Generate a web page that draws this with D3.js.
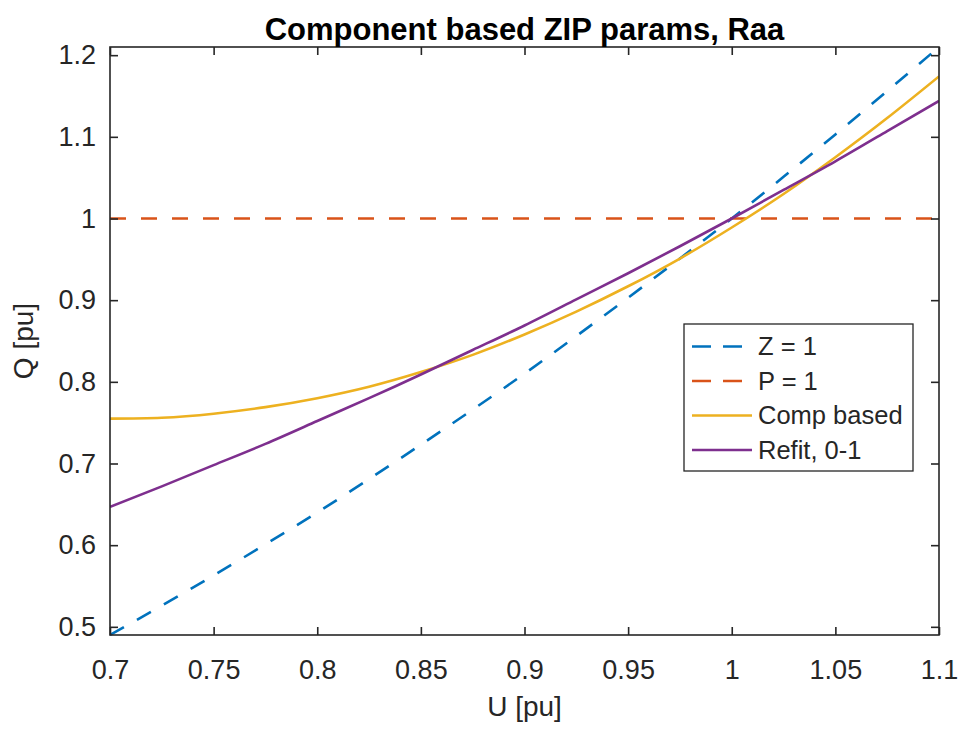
<!DOCTYPE html>
<html>
<head>
<meta charset="utf-8">
<script src="https://cdn.jsdelivr.net/npm/d3@7/dist/d3.min.js"></script>
<style>
  html, body { margin: 0; padding: 0; background: #ffffff; }
  svg { display: block; }
  text { font-family: "Liberation Sans", Arial, Helvetica, sans-serif; }
</style>
</head>
<body>
<svg id="chart" width="961" height="729"></svg>
<script>
// Voltage samples [pu]
const voltage = [0.70, 0.725, 0.75, 0.775, 0.80, 0.825, 0.85, 0.875, 0.90,
                 0.925, 0.95, 0.975, 1.00, 1.025, 1.05, 1.075, 1.10];

// Reactive power response [pu] for each model
const zConst = [0.490, 0.526, 0.563, 0.601, 0.640, 0.681, 0.723, 0.766, 0.810,
                0.856, 0.903, 0.951, 1.000, 1.051, 1.103, 1.156, 1.210];
const pConst = [1, 1, 1, 1, 1, 1, 1, 1, 1, 1, 1, 1, 1, 1, 1, 1, 1];
const compBased = [0.755, 0.756, 0.761, 0.769, 0.780, 0.794, 0.812, 0.833, 0.858,
                   0.886, 0.917, 0.951, 0.989, 1.030, 1.075, 1.123, 1.174];
const refit01 = [0.647, 0.672, 0.698, 0.724, 0.752, 0.780, 0.809, 0.839, 0.869,
                 0.901, 0.933, 0.966, 1.000, 1.035, 1.070, 1.107, 1.144];

const seriesNames = ["Z = 1", "P = 1", "Comp based", "Refit, 0-1"];
const xTicks = [0.7, 0.75, 0.8, 0.85, 0.9, 0.95, 1, 1.05, 1.1];
const yTicks = [0.5, 0.6, 0.7, 0.8, 0.9, 1, 1.1, 1.2];
const xDomain = [0.7, 1.1];
const yDomain = [0.49, 1.21];

const titleText = "Component based ZIP params, Raa";
const xLabel = "U [pu]";
const yLabel = "Q [pu]";

const seriesList = [
  { name: seriesNames[0], values: zConst,    color: "#0072BD", dash: "16,15" },
  { name: seriesNames[1], values: pConst,    color: "#D95319", dash: "16,15" },
  { name: seriesNames[2], values: compBased, color: "#EDB120", dash: null },
  { name: seriesNames[3], values: refit01,   color: "#7E2F8E", dash: null }
];

const svg = d3.select("#chart");
const axisColor = "#262626";
const plotL = 110, plotR = 939, plotT = 47, plotB = 635;

const x = d3.scaleLinear().domain(xDomain).range([plotL, plotR]);
const y = d3.scaleLinear().domain(yDomain).range([plotB, plotT]);

svg.append("rect").attr("width", 961).attr("height", 729).attr("fill", "#ffffff");

svg.append("defs").append("clipPath").attr("id", "plotClip")
  .append("rect").attr("x", plotL).attr("y", plotT - 2)
  .attr("width", plotR - plotL).attr("height", plotB - plotT + 4);

// Curves
const line = d3.line()
  .x((d, i) => x(voltage[i]))
  .y(d => y(d))
  .curve(d3.curveNatural);

const plot = svg.append("g").attr("clip-path", "url(#plotClip)");
seriesList.forEach(s => {
  plot.append("path")
    .datum(s.values)
    .attr("d", line)
    .attr("fill", "none")
    .attr("stroke", s.color)
    .attr("stroke-width", 2.6)
    .attr("stroke-dasharray", s.dash)
    .attr("stroke-linejoin", "round");
});

// Axes: ticks point inward on all four sides, labels on bottom and left
const tickLen = 8;
const fmt = d => String(+d.toFixed(2));

const xAxisB = d3.axisBottom(x).tickValues(xTicks).tickSizeInner(-tickLen).tickSizeOuter(0)
  .tickPadding(25).tickFormat(fmt);
const xAxisT = d3.axisTop(x).tickValues(xTicks).tickSizeInner(-tickLen).tickSizeOuter(0)
  .tickFormat("");
const yAxisL = d3.axisLeft(y).tickValues(yTicks).tickSizeInner(-tickLen).tickSizeOuter(0)
  .tickPadding(14).tickFormat(fmt);
const yAxisR = d3.axisRight(y).tickValues(yTicks).tickSizeInner(-tickLen).tickSizeOuter(0)
  .tickFormat("");

function styleAxis(g) {
  g.attr("font-family", null).attr("font-size", null);
  g.select(".domain").remove();
  g.selectAll(".tick line").attr("stroke", axisColor).attr("stroke-width", 1.6);
  g.selectAll(".tick text").attr("fill", axisColor).style("font-size", "27px");
}

svg.append("g").attr("transform", `translate(0,${plotB})`).call(xAxisB).call(styleAxis);
svg.append("g").attr("transform", `translate(0,${plotT})`).call(xAxisT).call(styleAxis);
svg.append("g").attr("transform", `translate(${plotL},0)`).call(yAxisL).call(styleAxis);
svg.append("g").attr("transform", `translate(${plotR},0)`).call(yAxisR).call(styleAxis);

// Axes box
svg.append("rect")
  .attr("x", plotL).attr("y", plotT)
  .attr("width", plotR - plotL).attr("height", plotB - plotT)
  .attr("fill", "none").attr("stroke", axisColor).attr("stroke-width", 1.6);

// Title and axis labels
svg.append("text")
  .attr("x", (plotL + plotR) / 2).attr("y", 40)
  .attr("text-anchor", "middle")
  .attr("fill", "#000000")
  .style("font-size", "31px").style("font-weight", "bold")
  .text(titleText);

svg.append("text")
  .attr("x", (plotL + plotR) / 2).attr("y", 716)
  .attr("text-anchor", "middle")
  .attr("fill", axisColor)
  .style("font-size", "28px")
  .text(xLabel);

svg.append("text")
  .attr("transform", `translate(33,${(plotT + plotB) / 2}) rotate(-90)`)
  .attr("text-anchor", "middle")
  .attr("fill", axisColor)
  .style("font-size", "28px")
  .text(yLabel);

// Legend
const legendBox = { x: 684, y: 324, w: 229, h: 147 };
const legend = svg.append("g");
legend.append("rect")
  .attr("x", legendBox.x).attr("y", legendBox.y)
  .attr("width", legendBox.w).attr("height", legendBox.h)
  .attr("fill", "#ffffff").attr("stroke", axisColor).attr("stroke-width", 1.3);

const legendRowY = d3.scaleLinear().domain([0, 3]).range([346.5, 450]);
seriesList.forEach((s, i) => {
  const yy = legendRowY(i);
  legend.append("line")
    .attr("x1", 692).attr("x2", 752)
    .attr("y1", yy).attr("y2", yy)
    .attr("stroke", s.color).attr("stroke-width", 2.6)
    .attr("stroke-dasharray", s.dash ? "19,12" : null);
  legend.append("text")
    .attr("x", 758).attr("y", yy)
    .attr("dy", "0.35em")
    .attr("fill", axisColor)
    .style("font-size", "25.5px")
    .text(s.name);
});
</script>
</body>
</html>
